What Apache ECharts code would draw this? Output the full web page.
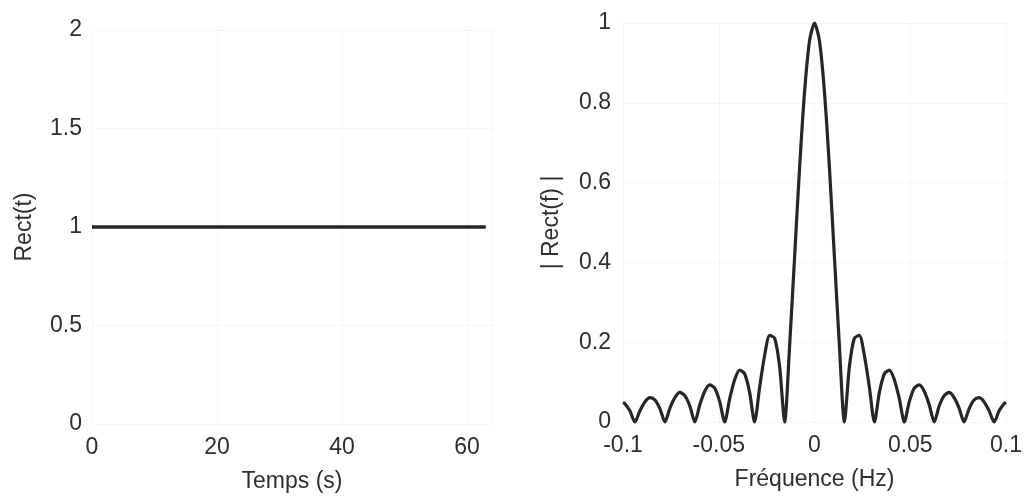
<!DOCTYPE html>
<html>
<head>
<meta charset="utf-8">
<title>Rect(t) et |Rect(f)|</title>
<script src="https://cdn.jsdelivr.net/npm/echarts@6/dist/echarts.min.js"></script>
<style>
  html, body { margin: 0; padding: 0; background: #fff; }
  #chart { width: 1025px; height: 498px; }
</style>
</head>
<body>
<div id="chart"></div>
<script>
// signal temporel : fenetre rectangulaire de 0 a 63 s
const tempsS = [0, 63];
const rectT = [1, 1];

// module du spectre (lobes tous les ~0.0156 Hz)
const freqHz = [
  -0.1, -0.099, -0.0964, -0.0938, -0.0911, -0.0885, -0.0859, -0.0833, -0.0807,
  -0.0781, -0.0755, -0.0729, -0.0703, -0.0677, -0.0651, -0.0625, -0.0599, -0.0573,
  -0.0547, -0.0521, -0.0495, -0.0469, -0.0443, -0.0417, -0.0391, -0.0365, -0.0339,
  -0.0313, -0.0286, -0.026, -0.0234, -0.0208, -0.0182, -0.0156, -0.013, -0.0104,
  -0.0078, -0.0052, -0.0026, 0,
  0.0026, 0.0052, 0.0078, 0.0104, 0.013, 0.0156, 0.0182, 0.0208, 0.0234,
  0.026, 0.0286, 0.0313, 0.0339, 0.0365, 0.0391, 0.0417, 0.0443, 0.0469,
  0.0495, 0.0521, 0.0547, 0.0573, 0.0599, 0.0625, 0.0651, 0.0677, 0.0703,
  0.0729, 0.0755, 0.0781, 0.0807, 0.0833, 0.0859, 0.0885, 0.0911, 0.0938,
  0.0964, 0.099, 0.1
];
const rectF = [
  0.049, 0.046, 0.028, 0, 0.029, 0.051, 0.061, 0.055, 0.033,
  0, 0.035, 0.061, 0.074, 0.066, 0.04, 0, 0.043, 0.077,
  0.093, 0.085, 0.051, 0, 0.058, 0.106, 0.13, 0.121, 0.075,
  0, 0.089, 0.168, 0.217, 0.21, 0.138, 0, 0.191, 0.413,
  0.637, 0.827, 0.955, 1,
  0.955, 0.827, 0.637, 0.413, 0.191, 0, 0.138, 0.21, 0.217,
  0.168, 0.089, 0, 0.075, 0.121, 0.13, 0.106, 0.058, 0,
  0.051, 0.085, 0.093, 0.077, 0.043, 0, 0.04, 0.066, 0.074,
  0.061, 0.035, 0, 0.033, 0.055, 0.061, 0.051, 0.029, 0,
  0.028, 0.046, 0.049
];

const yTicksLeft = { min: 0, max: 2, interval: 0.5 };
const yTicksRight = { min: 0, max: 1, interval: 0.2 };

const textColor = "#2e2e2e";
const font = "'Liberation Sans', Arial, sans-serif";
const lineColor = "#262626";

const faintGrid = { show: true, lineStyle: { color: "#ececec", type: "dotted", width: 1 } };
const label = { color: textColor, fontFamily: font, fontSize: 23 };
const name = { color: textColor, fontFamily: font, fontSize: 23 };

const chart = echarts.init(document.getElementById("chart"), null, { renderer: "canvas" });

const option = {
  animation: false,
  backgroundColor: "#ffffff",
  grid: [
    { left: 92, top: 30, width: 400, bottom: 70 },
    { left: 623, top: 23, width: 390, bottom: 76 }
  ],
  xAxis: [
    {
      type: "value",
      gridIndex: 0,
      min: 0,
      max: 64,
      interval: 20,
      name: "Temps (s)",
      nameLocation: "middle",
      nameGap: 46,
      nameTextStyle: name,
      axisLine: { show: false },
      axisTick: { show: false },
      axisLabel: Object.assign({ margin: 12, showMaxLabel: false }, label),
      splitLine: faintGrid
    },
    {
      type: "value",
      gridIndex: 1,
      min: -0.1,
      max: 0.1,
      interval: 0.05,
      name: "Fréquence (Hz)",
      nameLocation: "middle",
      nameGap: 46,
      nameTextStyle: name,
      axisLine: { show: false },
      axisTick: { show: false },
      axisLabel: Object.assign({ margin: 12 }, label),
      splitLine: faintGrid
    }
  ],
  yAxis: [
    {
      type: "value",
      gridIndex: 0,
      min: yTicksLeft.min,
      max: yTicksLeft.max,
      interval: yTicksLeft.interval,
      name: "Rect(t)",
      nameLocation: "middle",
      nameGap: 56,
      nameTextStyle: name,
      axisLine: { show: false },
      axisTick: { show: false },
      axisLabel: Object.assign({ margin: 10 }, label),
      splitLine: faintGrid
    },
    {
      type: "value",
      gridIndex: 1,
      min: yTicksRight.min,
      max: yTicksRight.max,
      interval: yTicksRight.interval,
      name: "| Rect(f) |",
      nameLocation: "middle",
      nameGap: 60,
      nameTextStyle: name,
      axisLine: { show: false },
      axisTick: { show: false },
      axisLabel: Object.assign({ margin: 12 }, label),
      splitLine: faintGrid
    }
  ],
  series: [
    {
      name: "Rect(t)",
      type: "line",
      xAxisIndex: 0,
      yAxisIndex: 0,
      data: tempsS.map((t, i) => [t, rectT[i]]),
      showSymbol: false,
      lineStyle: { color: lineColor, width: 3.5 }
    },
    {
      name: "|Rect(f)|",
      type: "line",
      xAxisIndex: 1,
      yAxisIndex: 1,
      data: freqHz.map((f, i) => [f, rectF[i]]),
      showSymbol: false,
      smooth: 0.25,
      clip: false,
      lineStyle: { color: lineColor, width: 3.2, join: "round" }
    }
  ]
};
chart.setOption(option);
</script>
</body>
</html>
